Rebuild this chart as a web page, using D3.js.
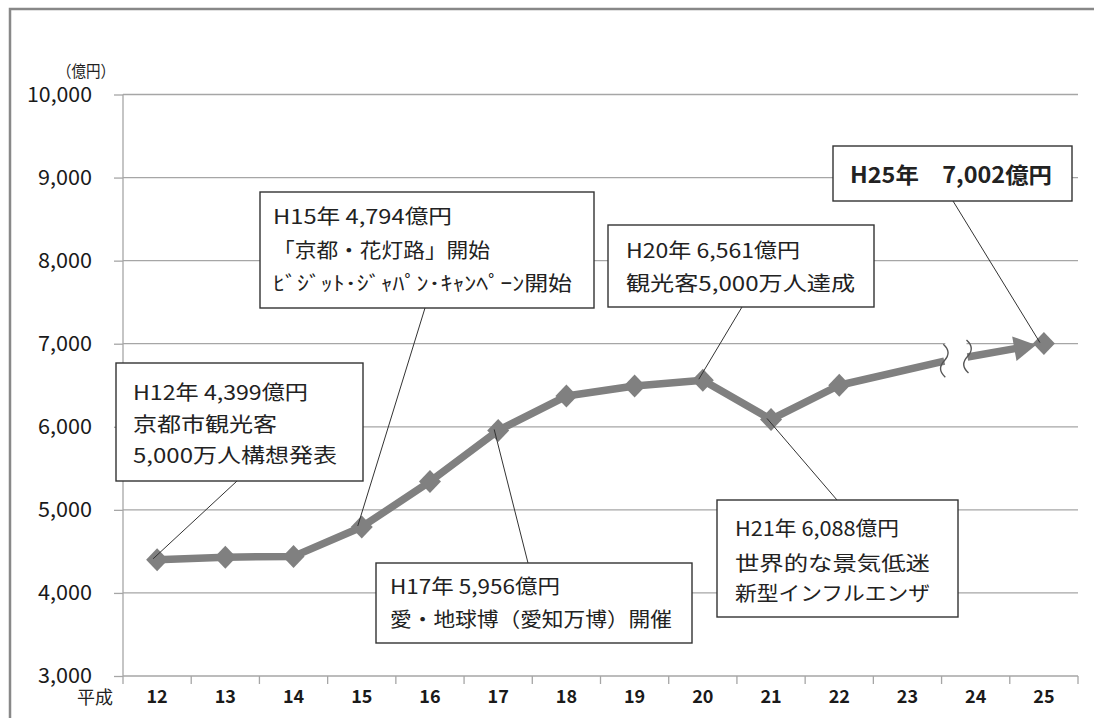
<!DOCTYPE html>
<html><head><meta charset="utf-8">
<script src="https://cdn.jsdelivr.net/npm/d3@7"></script>
<style>body{margin:0;background:#fff} svg{display:block}</style>
</head><body>
<svg id="chart" width="1094" height="718"></svg>
<script>
// ---- data ----
const categories = ["12","13","14","15","16","17","18","19","20","21","22","23","24","25"];
const values = [4399, 4430, 4440, 4794, 5340, 5956, 6370, 6490, 6561, 6088, 6500, null, null, 7002];
// trend lines around the axis break (position = category index, fractional)
const trendBefore = [{pos: 10, value: 6500}, {pos: 11.54, value: 6790}];
const trendAfter = [{pos: 11.88, value: 6840}, {pos: 13, value: 7002}];
const yTicks = [3000, 4000, 5000, 6000, 7000, 8000, 9000, 10000];
const yUnit = "（億円）";
const xPrefix = "平成";
const annotations = [
  {id: "h12", cat: "12", lines: ["H12年 4,399億円", "京都市観光客", "5,000万人構想発表"]},
  {id: "h15", cat: "15", lines: ["H15年 4,794億円", "「京都・花灯路」開始", "ﾋﾞｼﾞｯﾄ･ｼﾞｬﾊﾟﾝ･ｷｬﾝﾍﾟｰﾝ開始"]},
  {id: "h17", cat: "17", lines: ["H17年 5,956億円", "愛・地球博（愛知万博）開催"]},
  {id: "h20", cat: "20", lines: ["H20年 6,561億円", "観光客5,000万人達成"]},
  {id: "h21", cat: "21", lines: ["H21年 6,088億円", "世界的な景気低迷", "新型インフルエンザ"]},
  {id: "h25", cat: "25", lines: ["H25年　7,002億円"]}
];

// ---- layout ----
const L = 123, R = 1078, T = 94.5, B = 676;
const layout = {
  h12: {box: [116, 363, 247, 118], tx: 133, base: [400, 432, 463], w: [175, 144, 204], from: [237, 481]},
  h15: {box: [260, 192, 334, 116], tx: 273, base: [224, 258, 291], w: [179, 217, 299], from: [425, 308]},
  h17: {box: [376, 563, 316, 80], tx: 390, base: [594, 627], w: [170, 282], from: [528, 563]},
  h20: {box: [608, 225, 266, 82], tx: 626, base: [258, 291], w: [174, 229], from: [742, 307]},
  h21: {box: [717, 500, 241, 117], tx: 735, base: [536, 571, 601], w: [164, 195, 195], from: [837, 500]},
  h25: {box: [833, 146, 239, 55], tx: 850, base: [183], w: [202], from: [953, 201], bold: true}
};
const CJK = "'Noto Sans CJK JP', 'Noto Sans', sans-serif";
const gray = "#808080";

const svg = d3.select("#chart");

// outer frame
svg.append("path").attr("d", `M10,718 L10,9 L1094,9`).attr("fill", "none")
  .attr("stroke", "#888").attr("stroke-width", 2.5);

const x = d3.scaleBand().domain(categories).range([L, R]).padding(0);
const bw = x.bandwidth();
const xi = d3.scaleLinear().domain([0, categories.length - 1]).range([x(categories[0]) + bw / 2, x(categories[categories.length - 1]) + bw / 2]);
const y = d3.scaleLinear().domain([3000, 10000]).range([B, T]);

// gridlines
svg.append("g").selectAll("line").data(yTicks.filter(v => v > 3000)).join("line")
  .attr("x1", L).attr("x2", R).attr("y1", d => y(d)).attr("y2", d => y(d))
  .attr("stroke", "#a6a6a6").attr("stroke-width", 1.3);

// y axis
const yAxis = svg.append("g").attr("transform", `translate(${L},0)`)
  .call(d3.axisLeft(y).tickValues(yTicks).tickSize(9).tickPadding(22).tickFormat(d3.format(",")));
yAxis.select(".domain").remove();
yAxis.selectAll(".tick line").attr("stroke", "#a6a6a6").attr("stroke-width", 1.3);
yAxis.selectAll(".tick text").attr("font-family", CJK).attr("font-size", 21).attr("fill", "#1a1a1a")
  .attr("textLength", d => d >= 10000 ? 65 : 54).attr("lengthAdjust", "spacingAndGlyphs");
svg.append("line").attr("x1", L).attr("x2", L).attr("y1", T).attr("y2", B + 8)
  .attr("stroke", "#a6a6a6").attr("stroke-width", 1.3);

// x axis
svg.append("line").attr("x1", L).attr("x2", R).attr("y1", B).attr("y2", B)
  .attr("stroke", "#a6a6a6").attr("stroke-width", 1.3);
svg.append("g").selectAll("line").data(categories.slice(1).concat(["end"])).join("line")
  .attr("x1", d => d === "end" ? R : x(d)).attr("x2", d => d === "end" ? R : x(d))
  .attr("y1", B).attr("y2", B + 8).attr("stroke", "#a6a6a6").attr("stroke-width", 1.3);
const xAxis = svg.append("g").attr("transform", `translate(0,${B})`)
  .call(d3.axisBottom(x).tickSize(0).tickPadding(14));
xAxis.select(".domain").remove();
xAxis.selectAll(".tick text").attr("font-family", CJK).attr("font-weight", "bold").attr("font-size", 18).attr("fill", "#1a1a1a");

svg.append("text").attr("x", 113).attr("y", 704).attr("text-anchor", "end")
  .attr("font-family", CJK).attr("font-size", 18).attr("fill", "#222").text(xPrefix);
svg.append("text").attr("x", 57).attr("y", 77).attr("textLength", 58).attr("lengthAdjust", "spacingAndGlyphs")
  .attr("font-family", CJK).attr("font-size", 16).attr("fill", "#222").text(yUnit);

// main series line
const pts = categories.map((c, i) => ({c, i, v: values[i]})).filter(d => d.v !== null);
const mainPts = pts.filter(d => d.i <= 10);
const line = d3.line().x(d => xi(d.i)).y(d => y(d.v));
svg.append("path").datum(mainPts).attr("d", line).attr("fill", "none")
  .attr("stroke", gray).attr("stroke-width", 7.5).attr("stroke-linejoin", "round");

// gap between break marks
const bx0 = xi(trendBefore[1].pos), bx1 = xi(trendAfter[0].pos);
svg.append("rect").attr("x", bx0 + 1).attr("y", y(trendBefore[1].value) - 20).attr("width", bx1 - bx0 - 2).attr("height", 40).attr("fill", "#fff");

const tline = d3.line().x(d => xi(d.pos)).y(d => y(d.value));
svg.append("path").datum(trendBefore).attr("d", tline).attr("fill", "none")
  .attr("stroke", gray).attr("stroke-width", 7.5);

// arrow segment
const p0 = [xi(trendAfter[0].pos), y(trendAfter[0].value)];
const p1 = [xi(trendAfter[1].pos), y(trendAfter[1].value)];
const dx = p1[0] - p0[0], dy = p1[1] - p0[1], len = Math.hypot(dx, dy);
const ux = dx / len, uy = dy / len, nx = -uy, ny = ux;
const tip = [p1[0] - ux * 8, p1[1] - uy * 8];
const base = [tip[0] - ux * 22, tip[1] - uy * 22];
svg.append("line").attr("x1", p0[0]).attr("y1", p0[1]).attr("x2", base[0] + ux * 2).attr("y2", base[1] + uy * 2)
  .attr("stroke", gray).attr("stroke-width", 7.5);
svg.append("path").attr("d", `M${tip[0]},${tip[1]} L${base[0] + nx * 12.5},${base[1] + ny * 12.5} L${base[0] - nx * 12.5},${base[1] - ny * 12.5} Z`)
  .attr("fill", gray);

// break waves
function wave(cx, cy) {
  const top = cy - 17, bot = cy + 16, mid = (top + bot) / 2;
  return `M${cx - 1},${top} Q${cx + 8},${top + 8} ${cx},${mid} T${cx + 1},${bot}`;
}
svg.append("path").attr("d", wave(bx0, y(trendBefore[1].value))).attr("fill", "none").attr("stroke", "#555").attr("stroke-width", 1.4);
svg.append("path").attr("d", wave(bx1, y(trendAfter[0].value))).attr("fill", "none").attr("stroke", "#555").attr("stroke-width", 1.4);

// diamonds
svg.append("g").selectAll("path").data(pts).join("path")
  .attr("d", d => { const cx = xi(d.i), cy = y(d.v); return `M${cx},${cy - 11.5} L${cx + 11},${cy} L${cx},${cy + 11.5} L${cx - 11},${cy} Z`; })
  .attr("fill", gray);

// annotations
const ag = svg.append("g");
annotations.forEach(a => {
  const lay = layout[a.id];
  const ci = categories.indexOf(a.cat);
  ag.append("line").attr("x1", lay.from[0]).attr("y1", lay.from[1])
    .attr("x2", xi(ci) - 4).attr("y2", y(values[ci]) - 1)
    .attr("stroke", "#333").attr("stroke-width", 1);
  ag.append("rect").attr("x", lay.box[0]).attr("y", lay.box[1]).attr("width", lay.box[2]).attr("height", lay.box[3])
    .attr("fill", "#fff").attr("stroke", "#333").attr("stroke-width", 1.4);
  a.lines.forEach((t, k) => {
    ag.append("text").attr("x", lay.tx).attr("y", lay.base[k])
      .attr("font-family", CJK).attr("font-size", lay.bold ? 22 : 20)
      .attr("font-weight", lay.bold ? "bold" : "normal")
      .attr("fill", "#222").attr("textLength", lay.w[k]).attr("lengthAdjust", "spacingAndGlyphs")
      .text(t);
  });
});
</script>
</body></html>
